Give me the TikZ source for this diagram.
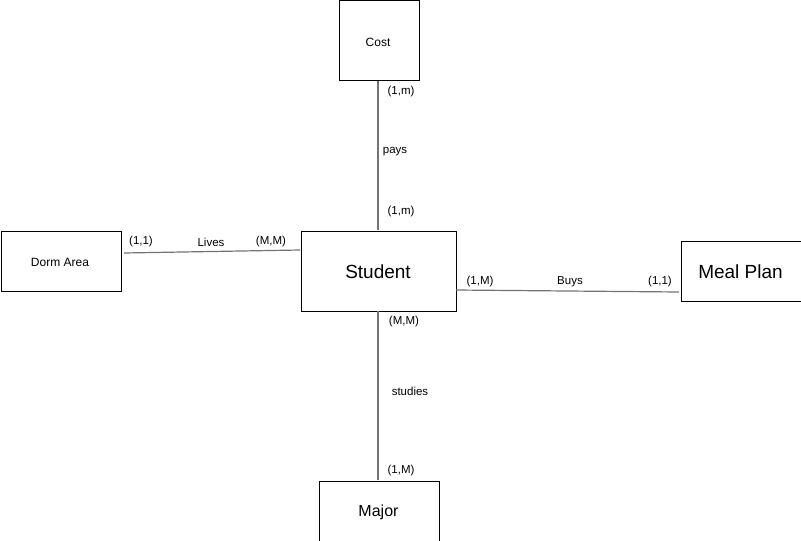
\documentclass[tikz,border=0pt]{standalone}
\usepackage{fontspec}
\setmainfont{Liberation Sans}
\tikzset{
  ent/.style={draw=black, line width=1pt, fill=white, inner sep=0pt, anchor=north west},
  conn/.style={draw=black!55, line width=1.2pt},
  lbl/.style={font=\fontsize{11.5}{13}\selectfont, inner sep=0pt},
}
\begin{document}
\begin{tikzpicture}[x=1pt,y=-1pt]
\useasboundingbox (0,0) rectangle (801,541);
\node[ent, minimum width=80pt, minimum height=80pt] (cost) at (338.5,0) {};
\node[font=\fontsize{12}{14}\selectfont] at (378,42) {Cost};
\node[ent, minimum width=120pt, minimum height=60pt] (dorm) at (0.5,230.5) {};
\node[font=\fontsize{12}{14}\selectfont] at (60,262) {Dorm Area};
\node[ent, minimum width=155pt, minimum height=80pt] (stu) at (300.5,230.5) {};
\node[font=\fontsize{19}{22}\selectfont] at (378,271.5) {Student};
\node[ent, minimum width=120pt, minimum height=60pt] (meal) at (680.5,240.5) {};
\node[font=\fontsize{19}{22}\selectfont] at (740.5,271.5) {Meal Plan};
\node[ent, minimum width=120pt, minimum height=60pt] (major) at (318.5,480.5) {};
\node[font=\fontsize{16}{18}\selectfont] at (378.5,512) {Major};
\coordinate (c1) at (378,81);
\coordinate (c2) at (378,230);
\coordinate (d1) at (124,253);
\coordinate (d2) at (300,250);
\coordinate (m1) at (456,290);
\coordinate (m2) at (679,292);
\coordinate (j1) at (378,311);
\coordinate (j2) at (378,480);
\draw[conn] (c1) -- (c2);
\draw[conn] (d1) -- (d2);
\draw[conn] (m1) -- (m2);
\draw[conn] (j1) -- (j2);
\node[lbl] (l1) at (401,92) {(1,m)};
\node[lbl] (l2) at (395,152) {pays};
\node[lbl] (l3) at (401,212) {(1,m)};
\node[lbl] (l4) at (141,242) {(1,1)};
\node[lbl] (l5) at (211,242) {Lives};
\node[lbl] (l6) at (271,242) {(M,M)};
\node[lbl] (l7) at (480,282) {(1,M)};
\node[lbl] (l8) at (570,282) {Buys};
\node[lbl] (l9) at (660,282) {(1,1)};
\node[lbl] (l10) at (404,322) {(M,M)};
\node[lbl] (l11) at (410,391) {studies};
\node[lbl] (l12) at (401,471) {(1,M)};
\end{tikzpicture}
\end{document}
